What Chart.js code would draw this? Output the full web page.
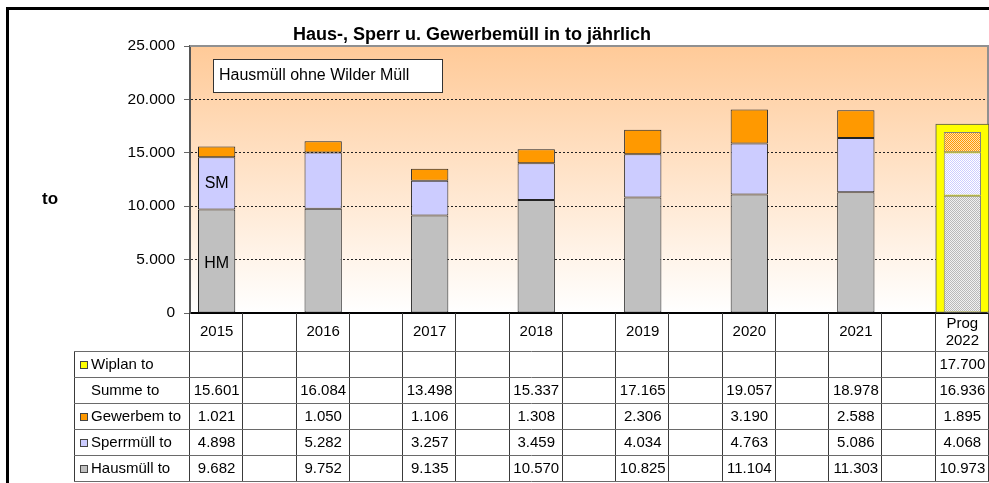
<!DOCTYPE html>
<html>
<head>
<meta charset="utf-8">
<script src="https://cdn.jsdelivr.net/npm/chart.js@4.4.1/dist/chart.umd.min.js"></script>
<style>
html, body { margin: 0; padding: 0; background: #fff; }
#chart { width: 989px; height: 483px; position: relative; }
</style>
</head>
<body>
<div id="chart"><canvas id="myChart"></canvas></div>
<script>
// categories: every second column is an empty spacer, as in the original sheet
const labels = ['2015', '', '2016', '', '2017', '', '2018', '', '2019', '', '2020', '', '2021', '', ['Prog', '2022']];

const hausmuell  = [9682, null, 9752, null, 9135, null, 10570, null, 10825, null, 11104, null, 11303, null, 10973];
const sperrmuell = [4898, null, 5282, null, 3257, null, 3459, null, 4034, null, 4763, null, 5086, null, 4068];
const gewerbem   = [1021, null, 1050, null, 1106, null, 1308, null, 2306, null, 3190, null, 2588, null, 1895];
const summe      = [15601, null, 16084, null, 13498, null, 15337, null, 17165, null, 19057, null, 18978, null, 16936];
const wiplan     = [null, null, null, null, null, null, null, null, null, null, null, null, null, null, 17700];

const yTicks = [0, 5000, 10000, 15000, 20000, 25000];

const FONT = '"Liberation Sans", Arial, sans-serif';
const PROG = 14;

function fmt(v) {
    return String(v).replace(/\B(?=(\d{3})+(?!\d))/g, '.');
}

function checker(c1, c2) {
    const p = document.createElement('canvas');
    p.width = 2; p.height = 2;
    const g = p.getContext('2d');
    g.fillStyle = c2; g.fillRect(0, 0, 2, 2);
    g.fillStyle = c1; g.fillRect(0, 0, 1, 1); g.fillRect(1, 1, 1, 1);
    return g.createPattern(p, 'repeat');
}

const patGrey = checker('#B8B8B8', '#F0F0F0');
const patLav = checker('#CCCCFF', '#FFFFFF');
const patOrange = checker('#FF9900', '#FFE0B0');

const tableRows = [
    { label: 'Wiplan to', color: '#FFFF00', data: wiplan },
    { label: 'Summe to', color: null, data: summe },
    { label: 'Gewerbem to', color: '#FF9900', data: gewerbem },
    { label: 'Sperrmüll to', color: '#CCCCFF', data: sperrmuell },
    { label: 'Hausmüll to', color: '#C0C0C0', data: hausmuell }
];

const decor = {
    id: 'decor',
    beforeDraw(chart) {
        const { ctx, chartArea: a, width, height } = chart;
        ctx.save();
        ctx.fillStyle = '#fff';
        ctx.fillRect(0, 0, width, height);
        const g = ctx.createLinearGradient(0, a.top, 0, a.bottom);
        g.addColorStop(0, '#FFCA98');
        g.addColorStop(1, '#FFFFFF');
        ctx.fillStyle = g;
        ctx.fillRect(a.left, a.top, a.right - a.left, a.bottom - a.top);
        // outer frame
        ctx.fillStyle = '#000';
        ctx.fillRect(6, 7, width - 6, 3);
        ctx.fillRect(6, 7, 3, height - 7);
        ctx.restore();
    },
    beforeDatasetsDraw(chart) {
        const { ctx, chartArea: a } = chart;
        ctx.save();
        ctx.strokeStyle = '#909090';
        ctx.lineWidth = 2;
        ctx.beginPath();
        ctx.moveTo(a.left, a.top);
        ctx.lineTo(a.right - 1, a.top);
        ctx.lineTo(a.right - 1, a.bottom);
        ctx.stroke();
        ctx.restore();
    },
    afterDraw(chart) {
        const { ctx, chartArea: a } = chart;
        const xs = chart.scales.x;
        const ys = chart.scales.y;
        ctx.save();

        // title
        ctx.fillStyle = '#000';
        ctx.font = 'bold 18px ' + FONT;
        ctx.textAlign = 'center';
        ctx.textBaseline = 'middle';
        ctx.fillText('Haus-, Sperr u. Gewerbemüll in to jährlich', 472, 35);
        ctx.font = 'bold 17px ' + FONT;
        ctx.fillText('to', 50, 199);

        // note box
        ctx.fillStyle = '#fff';
        ctx.fillRect(a.left + 23, a.top + 13, 229, 33);
        ctx.strokeStyle = '#333';
        ctx.lineWidth = 1;
        ctx.strokeRect(a.left + 23.5, a.top + 13.5, 229, 33);
        ctx.fillStyle = '#000';
        ctx.font = '16px ' + FONT;
        ctx.textAlign = 'left';
        ctx.fillText('Hausmüll ohne Wilder Müll', a.left + 29, a.top + 30);

        // segment labels on the first bar
        ctx.textAlign = 'center';
        const x0 = xs.getPixelForValue(0);
        ctx.fillText('HM', x0, ys.getPixelForValue(hausmuell[0] / 2) + 2);
        ctx.fillText('SM', x0, ys.getPixelForValue(hausmuell[0] + sperrmuell[0] / 2));

        // data table
        const half = (xs.getPixelForValue(1) - xs.getPixelForValue(0)) / 2;
        const top = a.bottom;
        const headH = 39, rowH = 26, leftX = 74;
        const rowsTop = top + headH;
        const bottom = rowsTop + tableRows.length * rowH;

        ctx.lineWidth = 1;
        ctx.strokeStyle = '#3a3a3a';
        for (let i = 0; i <= labels.length; i++) {
            const bx = Math.round(i < labels.length ? xs.getPixelForValue(i) - half : xs.getPixelForValue(labels.length - 1) + half) - 0.5;
            ctx.beginPath();
            ctx.moveTo(bx, top);
            ctx.lineTo(bx, bottom);
            ctx.stroke();
        }
        ctx.beginPath();
        ctx.moveTo(leftX + 0.5, rowsTop);
        ctx.lineTo(leftX + 0.5, bottom);
        ctx.stroke();
        ctx.strokeStyle = '#6a6a6a';
        for (let r = 0; r <= tableRows.length; r++) {
            const y = Math.round(rowsTop + r * rowH) - 0.5;
            ctx.beginPath();
            ctx.moveTo(leftX, y);
            ctx.lineTo(a.right, y);
            ctx.stroke();
        }

        ctx.fillStyle = '#000';
        ctx.font = '15px ' + FONT;
        ctx.textAlign = 'center';
        ctx.textBaseline = 'middle';
        labels.forEach((l, i) => {
            const cx = xs.getPixelForValue(i);
            if (Array.isArray(l)) {
                ctx.fillText(l[0], cx, top + 11);
                ctx.fillText(l[1], cx, top + 28);
            } else if (l) {
                ctx.fillText(l, cx, top + 19);
            }
        });

        tableRows.forEach((row, r) => {
            const cy = rowsTop + r * rowH + rowH / 2;
            if (row.color) {
                ctx.fillStyle = row.color;
                ctx.fillRect(80, cy - 4, 8, 8);
                ctx.strokeStyle = '#444';
                ctx.strokeRect(80.5, cy - 3.5, 7, 7);
            }
            ctx.fillStyle = '#000';
            ctx.textAlign = 'left';
            ctx.fillText(row.label, 91, cy);
            ctx.textAlign = 'center';
            row.data.forEach((v, i) => {
                if (v !== null) ctx.fillText(fmt(v), xs.getPixelForValue(i), cy);
            });
        });

        ctx.restore();
    }
};

const barBase = {
    borderWidth: 1,
    borderSkipped: false,
    barPercentage: 0.7,
    categoryPercentage: 1.0,
    stack: 'muell',
    order: 1
};

const config = {
    type: 'bar',
    data: {
        labels: labels,
        datasets: [
            Object.assign({}, barBase, {
                label: 'Hausmüll to',
                data: hausmuell,
                backgroundColor: c => c.dataIndex === PROG ? patGrey : '#C0C0C0',
                borderColor: c => c.dataIndex === PROG ? '#808080' : '#222'
            }),
            Object.assign({}, barBase, {
                label: 'Sperrmüll to',
                data: sperrmuell,
                backgroundColor: c => c.dataIndex === PROG ? patLav : '#CCCCFF',
                borderColor: c => c.dataIndex === PROG ? '#808080' : '#222'
            }),
            Object.assign({}, barBase, {
                label: 'Gewerbem to',
                data: gewerbem,
                backgroundColor: c => c.dataIndex === PROG ? patOrange : '#FF9900',
                borderColor: c => c.dataIndex === PROG ? '#808080' : '#222'
            }),
            {
                // plan value: drawn behind the forecast bar, full category width
                label: 'Wiplan to',
                data: wiplan,
                stack: 'wiplan',
                grouped: false,
                backgroundColor: '#FFFF00',
                borderColor: '#555',
                borderWidth: 1,
                borderSkipped: false,
                barPercentage: 1.0,
                categoryPercentage: 1.0,
                order: 10
            }
        ]
    },
    options: {
        responsive: true,
        maintainAspectRatio: false,
        animation: false,
        layout: { padding: { top: 46, left: 0, right: 0, bottom: 0 } },
        plugins: {
            legend: { display: false },
            title: { display: false },
            tooltip: { enabled: false }
        },
        scales: {
            x: {
                stacked: true,
                grid: { display: false },
                ticks: { display: false },
                border: { display: true, color: '#000', width: 2 },
                afterFit: s => { s.height = 170; }
            },
            y: {
                stacked: true,
                min: 0,
                max: 25000,
                afterBuildTicks: s => { s.ticks = yTicks.map(v => ({ value: v })); },
                afterFit: s => { s.width = 190; },
                ticks: {
                    color: '#000',
                    padding: 9,
                    font: { family: FONT, size: 15.5 },
                    callback: v => fmt(v)
                },
                grid: {
                    color: c => (c.tick && (c.tick.value === 0 || c.tick.value === 25000)) ? 'rgba(0,0,0,0)' : '#222',
                    lineWidth: 1,
                    tickLength: 6,
                    tickColor: '#666',
                    tickBorderDash: []
                },
                border: { display: true, color: '#555', width: 2, dash: [2, 2] }
            }
        }
    },
    plugins: [decor]
};

new Chart(
    document.getElementById('myChart'),
    config
);
</script>
</body>
</html>
